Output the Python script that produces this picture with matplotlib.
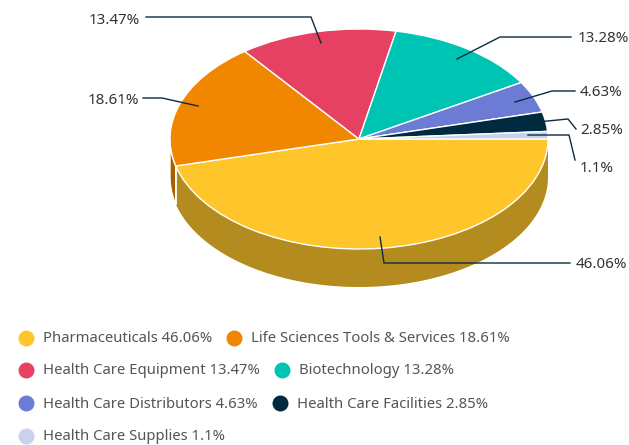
import numpy as np
import matplotlib
matplotlib.use("Agg")
import matplotlib.pyplot as plt

plt.rcParams['font.family'] = ['Noto Sans', 'DejaVu Sans']

# data
categories = ["Pharmaceuticals", "Life Sciences Tools & Services", "Health Care Equipment",
              "Biotechnology", "Health Care Distributors", "Health Care Facilities",
              "Health Care Supplies"]
shares = [46.06, 18.61, 13.47, 13.28, 4.63, 2.85, 1.1]
share_labels = ["46.06%", "18.61%", "13.47%", "13.28%", "4.63%", "2.85%", "1.1%"]
colors = ["#FFC62C", "#F18700", "#E64062", "#00C4B3", "#6C7BD4", "#002A3F", "#C7D3EC"]
wall_colors = ["#B38B1E", "#A85F00"]

W, H = 629, 445
cx, cy, rx, ry, depth = 359, 139, 189, 110, 38

fig = plt.figure(figsize=(W / 100, H / 100), dpi=100)

# pie axes: one data unit = one radius, so the pie comes out as an ellipse
ax = fig.add_axes([0, 0, 1, 1])
ax.pie(shares, colors=colors, startangle=0, counterclock=False, radius=1,
       wedgeprops=dict(edgecolor="white", linewidth=1.0, zorder=3))
ax.set_aspect("auto")
ax.set_xlim(-cx / rx, (W - cx) / rx)
ax.set_ylim((cy - H) / ry, cy / ry)
ax.axis("off")

# side wall of the front slices
edges = np.cumsum([0] + shares) * 3.6
for i, wall in enumerate(wall_colors):
    a1, a2 = edges[i], min(edges[i + 1], 180)
    t = np.radians(np.linspace(a1, a2, 200))
    x = np.cos(t)
    y = -np.sin(t)
    d = depth / ry
    ax.fill(np.r_[x, x[::-1]], np.r_[y, y[::-1] - d], color=wall, ec="white" if i == 1 else "none",
            lw=1, zorder=1)
    if i == 0:
        ax.plot([x[-1], x[-1]], [y[-1], y[-1] - d], color="white", lw=1.2, zorder=2)

# overlay in pixels for leaders and legend
ov = fig.add_axes([0, 0, 1, 1])
ov.set_xlim(0, W)
ov.set_ylim(H, 0)
ov.axis("off")
ov.patch.set_alpha(0)

leaders = [
    ([380, 384, 570], [237, 263, 263], 576, 265, "left"),
    ([198, 162, 143], [106, 98, 98], 139, 100, "right"),
    ([321, 311, 146], [43, 17, 17], 140, 20, "right"),
    ([457, 500, 571], [59, 37, 37], 578, 38.5, "left"),
    ([515, 552, 575], [102, 91, 91], 580, 93, "left"),
    ([527, 568, 576], [123, 119, 129], 580, 131, "left"),
    ([528, 569, 575], [135, 135, 160], 580, 168, "left"),
]
for (lx, ly, tx, ty, ha), lab in zip(leaders, share_labels):
    ov.plot(lx, ly, color="#0B2B3F", lw=1, solid_joinstyle="miter", zorder=5)
    ov.text(tx, ty, lab, ha=ha, va="center", fontsize=10.9, color="#333333", zorder=6)

# legend, laid out like a wrapped row flow
rows = [[0, 1], [2, 3], [4, 5], [6]]
row_y = [338, 370, 403, 436]
renderer = fig.canvas.get_renderer()
for items, y in zip(rows, row_y):
    mx = 26
    for i in items:
        ov.scatter([mx], [y], s=132, color=colors[i], linewidths=0, zorder=5)
        t = ov.text(mx + 17, y + 1, f"{categories[i]} {shares[i]}%", ha="left", va="center",
                    fontsize=10.7, color="#555555")
        bb = t.get_window_extent(renderer)
        mx = bb.x1 + 22

fig.savefig("out.png", dpi=100)
